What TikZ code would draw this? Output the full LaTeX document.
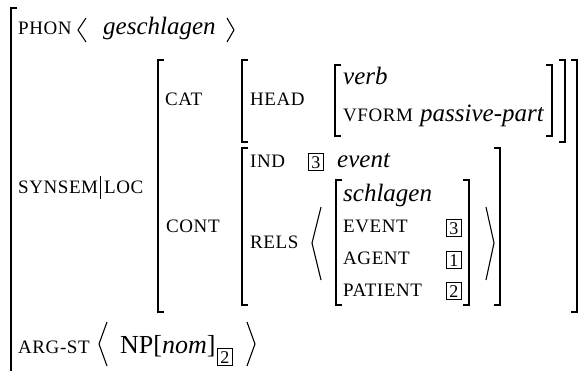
\documentclass[tikz,border=0pt]{standalone}
\usepackage{fontspec}
\setmainfont{Liberation Serif}
\newfontfamily\avmsc[LetterSpace=3]{Liberation Serif}
\newcommand\avmLB[3]{\draw[brk] ({#1+6},{#2}) -- ({#1},{#2}) -- ({#1},{#3}) -- ({#1+6},{#3});}
\newcommand\avmRB[3]{\draw[brk] ({#1-6},{#2}) -- ({#1},{#2}) -- ({#1},{#3}) -- ({#1-6},{#3});}
\tikzset{
  sclab/.style={anchor=base west, inner sep=0pt, font={\fontsize{19}{22}\selectfont\avmsc}},
  itval/.style={anchor=base west, inner sep=0pt, font={\fontsize{25}{30}\selectfont\itshape}},
  brk/.style={line width=1.3pt, line cap=butt, line join=miter},
  angl/.style={line width=1.1pt, line join=miter},
  tagbox/.style={draw, line width=0.7pt, minimum width=15pt, minimum height=17pt, inner sep=0pt, anchor=south west, font={\fontsize{18}{20}\selectfont}},
}
\begin{document}
\begin{tikzpicture}[x=1pt, y=-1pt]
\useasboundingbox (0,0) rectangle (583,371);
% outer bracket
\draw[brk] (17,8) -- (11,8) -- (11,395);
% PHON
\node[sclab] (phon) at (18,35) {PHON};
\draw[angl] (86,18) -- (78,30) -- (86,42);
\node[itval] (gesch) at (103,35) {geschlagen};
\draw[angl] (227,18) -- (234,30) -- (227,42);
% SYNSEM|LOC
\node[sclab] (synsem) at (18,194) {SYNSEM};
\draw[line width=0.8pt] (100,176) -- (100,199);
\node[sclab] (loc) at (104,194) {LOC};
% CAT/CONT matrix
\avmLB{158}{60}{312}
\avmRB{577}{60}{312}
\node[sclab] (cat) at (165,106) {CAT};
\avmLB{242}{60}{142}
\avmRB{565}{60}{142}
\node[sclab] (head) at (250,106) {HEAD};
\avmLB{335}{65}{136}
\avmRB{552}{65}{136}
\node[itval] (verb) at (343,85) {verb};
\node[sclab] (vform) at (343,122) {VFORM};
\node[itval] (pp) at (420,122) {passive-part};
% CONT
\node[sclab] (cont) at (166,233) {CONT};
\avmLB{242}{148}{305}
\avmRB{500}{148}{305}
\node[sclab] (ind) at (250,168) {IND};
\node[tagbox] (t3a) at (308,171) {3};
\node[itval] (event) at (337,168) {event};
\node[sclab] (rels) at (250,248) {RELS};
\draw[angl] (321,207) -- (312,243) -- (321,280);
\avmLB{336}{180}{305}
\avmRB{469}{180}{305}
\node[itval] (schl) at (343,202) {schlagen};
\node[sclab] (ev) at (343,233) {EVENT};
\node[tagbox] (t3b) at (446,237) {3};
\node[sclab] (ag) at (343,265) {AGENT};
\node[tagbox] (t1) at (446,269) {1};
\node[sclab] (pat) at (343,296) {PATIENT};
\node[tagbox] (t2a) at (446,300) {2};
\draw[angl] (486,207) -- (494,243) -- (486,280);
% ARG-ST
\node[sclab] (argst) at (18,353) {ARG-ST};
\draw[angl] (107,322) -- (99,344) -- (107,366);
\node[anchor=base west, inner sep=0pt, font={\fontsize{26}{30}\selectfont}] (np) at (120,353) {NP[\textit{nom}]};
\node[tagbox] (t2b) at (217,366) {2};
\draw[angl] (247,322) -- (255,344) -- (247,366);
\end{tikzpicture}
\end{document}
